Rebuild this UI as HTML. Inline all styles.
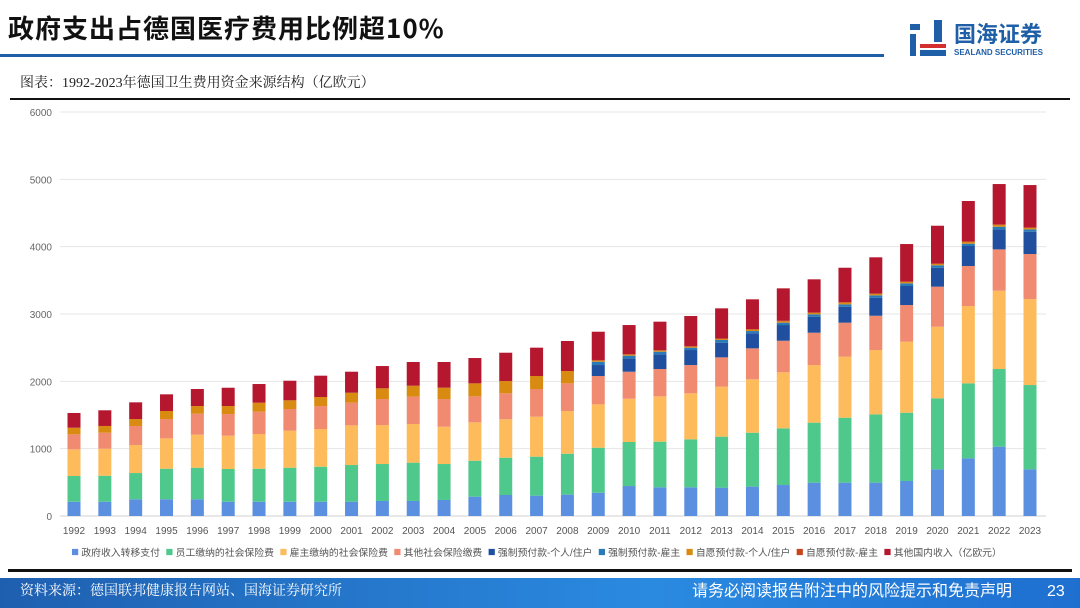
<!DOCTYPE html>
<html><head><meta charset="utf-8">
<style>
body{margin:0;width:1080px;height:608px;overflow:hidden;background:#fff;font-family:"Liberation Sans","Noto Sans CJK SC",sans-serif;position:relative}
.abs{position:absolute;line-height:1.2}
</style></head><body>
<div class="abs" style="left:8px;top:12px;font-size:26px;font-weight:bold;color:#111;letter-spacing:1px;font-family:'Noto Sans CJK SC',sans-serif;">政府支出占德国医疗费用比例超10%</div>
<div class="abs" style="left:0;top:54px;width:884px;height:3px;background:#1f5fa8"></div>
<div class="abs" style="left:908px;top:18px;width:170px;height:42px">
 <svg width="40" height="40" viewBox="0 0 40 40" style="position:absolute;left:0;top:0">
  <rect x="2" y="6" width="10" height="6" fill="#1f5fa8"/><rect x="2" y="16" width="6" height="22" fill="#1f5fa8"/>
  <rect x="26" y="2" width="8" height="22" fill="#1f5fa8"/><rect x="12" y="26" width="26" height="4" fill="#d32f2f"/><rect x="12" y="32" width="26" height="6" fill="#1f5fa8"/>
 </svg>
 <div class="abs" style="left:46px;top:2px;font-size:22px;font-weight:bold;color:#1f5fa8;font-family:'Noto Sans CJK SC',sans-serif">国海证券</div>
 <div class="abs" style="left:46px;top:30px;font-size:8px;font-weight:bold;color:#1f5fa8">SEALAND SECURITIES</div>
</div>
<div class="abs" style="left:20px;top:76px;font-size:14px;color:#222;font-family:'Liberation Serif','Noto Serif CJK SC',serif">图表：1992-2023年德国卫生费用资金来源结构（亿欧元）</div>
<div class="abs" style="left:10px;top:98px;width:1060px;height:2px;background:#111"></div>
<svg class="abs" style="left:0;top:0" width="1080" height="608" id="chart"></svg>
<div class="abs" style="left:8px;top:569px;width:1064px;height:3px;background:#111"></div>
<div class="abs" style="left:0;top:578px;width:1080px;height:30px;background:linear-gradient(90deg,#1f5fb0,#2a8ae0 60%,#1f6fd0)"></div>
<div class="abs" style="left:20px;top:584px;font-size:14px;color:#fff;font-family:'Liberation Serif','Noto Serif CJK SC',serif">资料来源：德国联邦健康报告网站、国海证券研究所</div>
<div class="abs" style="left:692px;top:582px;font-size:16px;color:#fff;white-space:nowrap">请务必阅读报告附注中的风险提示和免责声明</div>
<div class="abs" style="left:1047px;top:582px;font-size:16px;color:#fff">23</div>
<script>
const years=[1992,1993,1994,1995,1996,1997,1998,1999,2000,2001,2002,2003,2004,2005,2006,2007,2008,2009,2010,2011,2012,2013,2014,2015,2016,2017,2018,2019,2020,2021,2022,2023];
const seriesNames=["政府收入转移支付","员工缴纳的社会保险费","雇主缴纳的社会保险费","其他社会保险缴费","强制预付款-个人/住户","强制预付款-雇主","自愿预付款-个人/住户","自愿预付款-雇主","其他国内收入（亿欧元）"];
const colors=["#5b8fe0","#4fc88c","#fdbb5c","#f08a70","#1f4f9e","#2a7ab8","#d98a10","#c8441c","#b5172f"];
const govTransfer=[212,212,248,249,248,212,212,212,212,212,223,223,238,287,312,302,317,346,445,426,426,421,436,460,495,495,495,520,693,857,1029,693];
const employeeSI=[382,386,390,453,469,486,490,505,520,545,549,569,534,534,554,579,608,668,654,678,713,757,801,842,891,965,1015,1014,1055,1113,1154,1252];
const employerSI=[396,402,416,451,490,495,516,550,560,589,579,574,554,570,570,594,634,644,643,673,683,742,793,832,856,906,955,1054,1063,1149,1163,1277];
const otherSI=[223,237,283,287,312,321,331,322,341,337,386,406,411,386,386,411,411,421,401,406,420,436,460,469,480,505,509,545,595,594,614,669];
const compIndiv=[0,0,0,0,0,0,0,0,0,0,0,0,0,0,0,0,0,163,199,218,223,218,223,233,238,237,268,283,281,297,297,331];
const compEmployer=[0,0,0,0,0,0,0,0,0,0,0,0,0,0,0,0,0,49,39,39,35,40,34,35,35,35,35,39,36,34,39,35];
const volIndiv=[98,100,103,119,114,119,134,129,134,148,159,163,169,193,182,193,183,16,15,15,15,14,20,20,20,25,20,20,19,25,26,20];
const volEmployer=[0,0,0,0,0,0,0,0,0,0,0,0,0,0,0,0,0,10,10,10,10,10,10,10,10,10,10,10,10,10,10,10];
const otherDomestic=[219,233,248,248,253,272,277,291,317,312,331,352,381,376,421,421,446,420,430,421,445,446,441,480,490,509,535,554,559,599,598,628];
const yTicks=[0,1000,2000,3000,4000,5000,6000];
const series=[govTransfer,employeeSI,employerSI,otherSI,compIndiv,compEmployer,volIndiv,volEmployer,otherDomestic];
const NS="http://www.w3.org/2000/svg";
const svg=document.getElementById('chart');
const y0=516,yTop=112,yMax=6000;
const y=v=>y0-(v/yMax)*(y0-yTop);
const x=i=>74+i*(1030-74)/(years.length-1);
const bw=13;
function mk(t,a){const e=document.createElementNS(NS,t);for(const k in a)e.setAttribute(k,a[k]);svg.appendChild(e);return e;}
yTicks.forEach(t=>{
 const l=mk('line',{x1:60,x2:1046,y1:y(t),y2:y(t),stroke:t===0?'#d0d0d0':'#e6e6e6','stroke-width':1});
 
 
 const tx=mk('text',{x:52,y:y(t)+4,'text-anchor':'end','font-size':10,fill:'#666','font-family':'Liberation Sans,sans-serif'});
 tx.textContent=t;
 
 
});
years.forEach((yr,i)=>{
 let acc=0;
 series.forEach((s,k)=>{
  const v=s[i]; if(v<=0){return;}
  const r=mk('rect',{x:x(i)-bw/2,y:y(acc+v),width:bw,height:y(acc)-y(acc+v),fill:colors[k]});
  
  
  acc+=v;
 });
 const tx=mk('text',{x:x(i),y:534,'text-anchor':'middle','font-size':10,fill:'#555','font-family':'Liberation Sans,sans-serif'});
 tx.textContent=yr;
 
 
});
const legendG=document.createElementNS(NS,'g');svg.appendChild(legendG);


let lx=0;
seriesNames.forEach((n,k)=>{
 const g=document.createElementNS(NS,'g');legendG.appendChild(g);
 
 
 const r=document.createElementNS(NS,'rect');r.setAttribute('x',lx);r.setAttribute('y',549);r.setAttribute('width',6);r.setAttribute('height',6);r.setAttribute('fill',colors[k]);g.appendChild(r);
 const t=document.createElementNS(NS,'text');t.setAttribute('x',lx+9);t.setAttribute('y',556);t.setAttribute('font-size',9.5);t.setAttribute('fill','#555');t.setAttribute('font-family','Liberation Sans,Noto Sans CJK SC,sans-serif');t.textContent=n;g.appendChild(t);
 lx+=9+t.getComputedTextLength()+6;
});
const total=lx-6, target=1002-72;
const sc=target/total;
legendG.setAttribute('transform','translate(72,'+(552*(1-sc))+') scale('+sc+')');
</script>
</body></html>
